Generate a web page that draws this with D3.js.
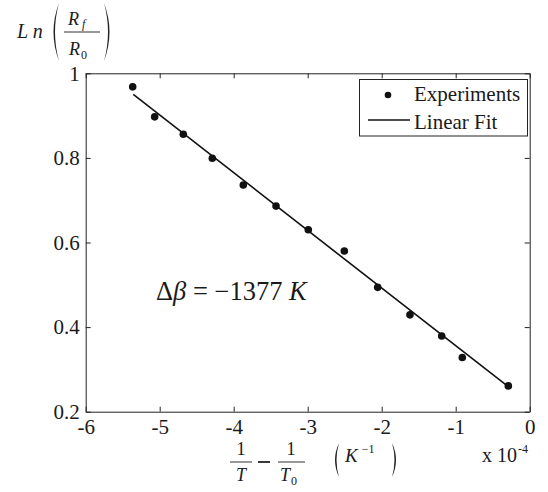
<!DOCTYPE html>
<html>
<head>
<meta charset="utf-8">
<script src="https://cdn.jsdelivr.net/npm/d3@7"></script>
<style>
  body { margin: 0; background: #fff; }
  svg text { font-family: "Liberation Serif", "Times New Roman", Tinos, "DejaVu Serif", serif; fill: #1a1a1a; }
</style>
</head>
<body>
<div id="chart"></div>
<script>
// data (x in units of 1e-4 K^-1)
const expX = [-5.365, -5.068, -4.681, -4.289, -3.870, -3.428, -2.992, -2.505, -2.054, -1.618, -1.189, -0.911, -0.289];
const expY = [0.968, 0.897, 0.856, 0.799, 0.736, 0.686, 0.630, 0.580, 0.494, 0.429, 0.379, 0.328, 0.261];
const fitX = [-5.357, -0.289];
const fitY = [0.950, 0.259];
const xTicks = [-6, -5, -4, -3, -2, -1, 0];
const yTicks = [0.2, 0.4, 0.6, 0.8, 1];

// set the dimensions and margins of the graph
const margin = {top: 73.3, right: 18.3, bottom: 80.3, left: 85.7},
    width = 548 - margin.left - margin.right,
    height = 492 - margin.top - margin.bottom;

const root = d3.select("#chart")
  .append("svg")
    .attr("width", 548)
    .attr("height", 492);

const svg = root.append("g")
    .attr("transform", `translate(${margin.left},${margin.top})`);

const x = d3.scaleLinear().domain([-6, 0]).range([0, width]);
const y = d3.scaleLinear().domain([0.2, 1]).range([height, 0]);

// axes, ticks pointing inward like matlab
const fmt = d => String(+d.toFixed(1));
svg.append("g")
    .attr("transform", `translate(0,${height})`)
    .call(d3.axisBottom(x).tickValues(xTicks).tickSize(-5).tickSizeOuter(0).tickPadding(7).tickFormat(fmt));
svg.append("g")
    .call(d3.axisLeft(y).tickValues(yTicks).tickSize(-5).tickSizeOuter(0).tickPadding(6).tickFormat(fmt));
svg.append("g")
    .call(d3.axisTop(x).tickValues(xTicks).tickSize(-5).tickSizeOuter(0).tickFormat(""));
svg.append("g")
    .attr("transform", `translate(${width},0)`)
    .call(d3.axisRight(y).tickValues(yTicks).tickSize(-5).tickSizeOuter(0).tickFormat(""));

svg.selectAll(".domain, .tick line").attr("stroke", "#222").attr("stroke-width", 1);
svg.selectAll(".tick text").attr("font-size", 21).attr("fill", "#1a1a1a");

// linear fit
const fitData = fitX.map((d, i) => ({x: d, y: fitY[i]}));
svg.append("path")
    .datum(fitData)
    .attr("fill", "none")
    .attr("stroke", "#111")
    .attr("stroke-width", 1.6)
    .attr("d", d3.line().x(d => x(d.x)).y(d => y(d.y)));

// experiment points
const pts = expX.map((d, i) => ({x: d, y: expY[i]}));
svg.selectAll("circle.pt")
  .data(pts)
  .join("circle")
    .attr("class", "pt")
    .attr("cx", d => x(d.x))
    .attr("cy", d => y(d.y))
    .attr("r", 3.8)
    .attr("fill", "#111");

// legend
const lg = root.append("g");
lg.append("rect")
    .attr("x", 359.5).attr("y", 79.5).attr("width", 168).attr("height", 56.5)
    .attr("fill", "#fff").attr("stroke", "#222").attr("stroke-width", 1);
lg.append("circle").attr("cx", 388).attr("cy", 95).attr("r", 3.3).attr("fill", "#111");
lg.append("line").attr("x1", 368).attr("x2", 410).attr("y1", 120).attr("y2", 120)
    .attr("stroke", "#111").attr("stroke-width", 1.6);
lg.append("text").attr("x", 414).attr("y", 101).attr("font-size", 21).text("Experiments");
lg.append("text").attr("x", 414).attr("y", 129).attr("font-size", 21).text("Linear Fit");

// annotation
const ann = root.append("text").attr("x", 156).attr("y", 300).attr("font-size", 26.5);
ann.append("tspan").text("Δ");
ann.append("tspan").attr("font-style", "italic").text("β");
ann.append("tspan").text(" = −1377 ");
ann.append("tspan").attr("font-style", "italic").text("K");

// tall parentheses as filled crescents
function paren(g, px, top, bot, dir, bulge) {
  const mid = (top + bot) / 2;
  const p = d3.path();
  p.moveTo(px, top);
  p.quadraticCurveTo(px - dir * bulge * 2, mid, px, bot);
  p.quadraticCurveTo(px - dir * (bulge * 2 - 3), mid, px, top);
  p.closePath();
  g.append("path").attr("d", p.toString()).attr("fill", "#222");
}

// y label: Ln(Rf/R0)
const yl = root.append("g");
yl.append("text").attr("x", 17).attr("y", 38).attr("font-size", 20).attr("font-style", "italic").text("L n");
paren(yl, 59, 3, 61, 1, 5.5);
paren(yl, 104, 3, 61, -1, 5.5);
const rf = yl.append("text").attr("x", 68).attr("y", 25).attr("font-size", 18).attr("font-style", "italic");
rf.append("tspan").text("R");
rf.append("tspan").attr("font-size", 12).attr("dx", 3).attr("dy", 3).text("f");
yl.append("line").attr("x1", 64).attr("x2", 100).attr("y1", 32).attr("y2", 32).attr("stroke", "#333").attr("stroke-width", 1);
const r0 = yl.append("text").attr("x", 69).attr("y", 55).attr("font-size", 18).attr("font-style", "italic");
r0.append("tspan").text("R");
r0.append("tspan").attr("font-style", "normal").attr("font-size", 12).attr("dx", 1).attr("dy", 4).text("0");

// x label: 1/T - 1/T0 (K^-1)
const xl = root.append("g");
xl.append("text").attr("x", 241).attr("y", 455).attr("font-size", 18).attr("text-anchor", "middle").text("1");
xl.append("line").attr("x1", 230).attr("x2", 252).attr("y1", 462).attr("y2", 462).attr("stroke", "#333").attr("stroke-width", 1);
xl.append("text").attr("x", 241).attr("y", 481).attr("font-size", 18).attr("font-style", "italic").attr("text-anchor", "middle").text("T");
xl.append("line").attr("x1", 258).attr("x2", 270).attr("y1", 462).attr("y2", 462).attr("stroke", "#222").attr("stroke-width", 1.8);
xl.append("text").attr("x", 291).attr("y", 455).attr("font-size", 18).attr("text-anchor", "middle").text("1");
xl.append("line").attr("x1", 278).attr("x2", 305).attr("y1", 462).attr("y2", 462).attr("stroke", "#333").attr("stroke-width", 1);
const t0 = xl.append("text").attr("x", 280).attr("y", 481).attr("font-size", 18).attr("font-style", "italic");
t0.append("tspan").text("T");
t0.append("tspan").attr("font-style", "normal").attr("font-size", 12).attr("dx", 1).attr("dy", 4).text("0");
paren(xl, 339, 443, 477, 1, 4);
paren(xl, 392, 443, 477, -1, 4);
const kk = xl.append("text").attr("x", 345).attr("y", 462).attr("font-size", 19).attr("font-style", "italic");
kk.append("tspan").text("K");
kk.append("tspan").attr("font-style", "normal").attr("font-size", 12).attr("dx", 4).attr("dy", -9).text("−1");

const ex = root.append("text").attr("x", 482).attr("y", 462).attr("font-size", 20);
ex.append("tspan").text("x 10");
ex.append("tspan").attr("font-size", 12).attr("dx", 1).attr("dy", -9).text("-4");
</script>
</body>
</html>
